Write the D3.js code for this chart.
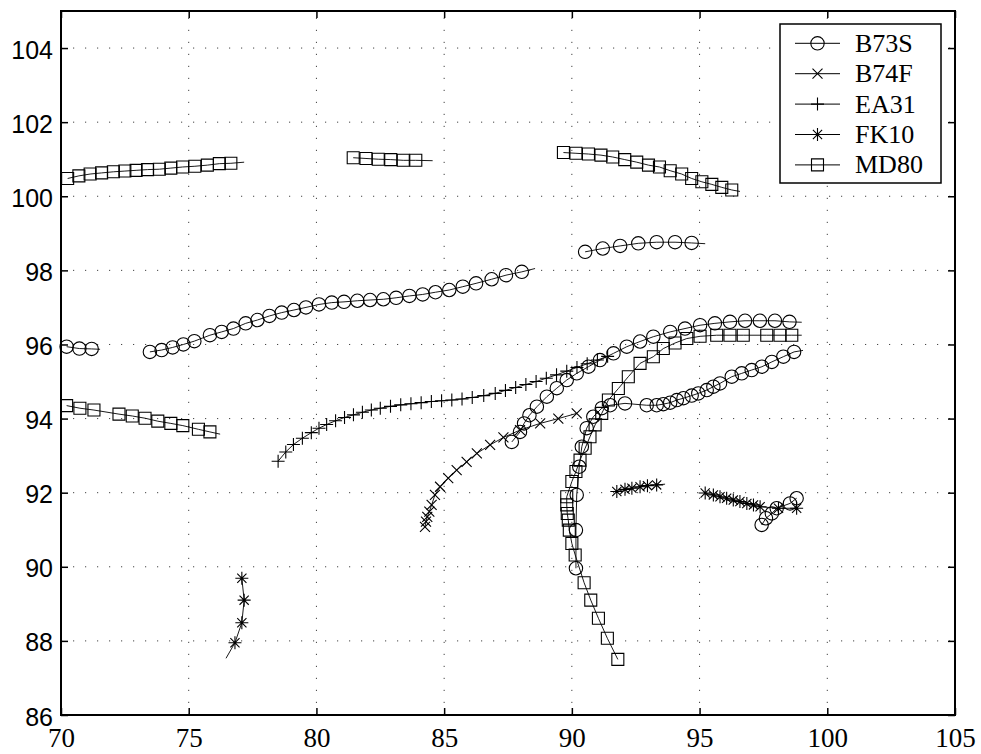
<!DOCTYPE html>
<html>
<head>
<meta charset="utf-8">
<script src="https://cdn.jsdelivr.net/npm/d3@7"></script>
<style>
  body { margin: 0; background: #fff; }
  svg { display: block; }
</style>
</head>
<body>
<svg id="chart"></svg>
<script>
const width = 981;
const height = 754;

const xTicks = [70, 75, 80, 85, 90, 95, 100, 105];
const yTicks = [86, 88, 90, 92, 94, 96, 98, 100, 102, 104];

const seriesNames = ["B73S", "B74F", "EA31", "FK10", "MD80"];

// tracks per aircraft type, [x, y] per marker; a third value 0 = line end only, no marker
const B73S = [
  [[70.22, 95.94], [70.72, 95.89], [71.2, 95.88], [71.53, 95.87, 0]],
  [[73.48, 95.80], [73.94, 95.85], [74.37, 95.92], [74.79, 96.00], [75.22, 96.09], [75.83, 96.25],
   [76.29, 96.34], [76.75, 96.43], [77.23, 96.57], [77.69, 96.66], [78.16, 96.77], [78.64, 96.86],
   [79.12, 96.93], [79.59, 97.00], [80.10, 97.08], [80.60, 97.13], [81.08, 97.15], [81.60, 97.18],
   [82.10, 97.20], [82.62, 97.22], [83.12, 97.26], [83.64, 97.31], [84.16, 97.35], [84.66, 97.41],
   [85.20, 97.47], [85.73, 97.56], [86.25, 97.65], [86.86, 97.76], [87.42, 97.87], [88.04, 97.96],
   [88.56, 98.05, 0]],
  [[90.52, 98.50], [91.21, 98.59], [91.89, 98.66], [92.60, 98.73], [93.32, 98.76], [94.04, 98.76],
   [94.69, 98.74], [95.22, 98.72, 0]],
  [[87.65, 93.37], [87.97, 93.64], [88.13, 93.87], [88.34, 94.09], [88.63, 94.32], [89.02, 94.59],
   [89.41, 94.82], [89.80, 95.04], [90.19, 95.22], [90.65, 95.40], [91.10, 95.58], [91.63, 95.76],
   [92.15, 95.94], [92.67, 96.08], [93.19, 96.21], [93.85, 96.34], [94.43, 96.43], [95.02, 96.52],
   [95.60, 96.57], [96.19, 96.61], [96.78, 96.64], [97.36, 96.64], [97.95, 96.64], [98.52, 96.61],
   [99.00, 96.60, 0]],
  [[90.16, 89.96], [90.16, 90.99], [90.19, 91.94], [90.29, 92.70], [90.39, 93.24], [90.58, 93.74],
   [90.84, 94.05], [91.17, 94.28], [91.50, 94.36], [92.08, 94.41], [92.93, 94.36], [93.32, 94.36],
   [93.58, 94.39], [93.85, 94.43], [94.11, 94.50], [94.37, 94.55], [94.69, 94.62], [94.95, 94.68],
   [95.28, 94.77], [95.54, 94.86], [95.80, 94.95], [96.26, 95.13], [96.65, 95.22], [97.04, 95.31],
   [97.44, 95.40], [97.83, 95.53], [98.28, 95.67], [98.70, 95.80], [99.05, 95.84, 0]],
  [[97.43, 91.13], [97.60, 91.31], [97.83, 91.44], [98.02, 91.58], [98.54, 91.71], [98.80, 91.85]]
];

const B74F = [
  [[84.25, 91.08], [84.29, 91.22], [84.34, 91.35], [84.42, 91.49], [84.51, 91.67], [84.64, 91.94],
   [84.84, 92.16], [85.16, 92.39], [85.49, 92.61], [85.88, 92.83], [86.28, 93.06], [86.80, 93.29],
   [87.32, 93.49], [87.97, 93.69], [88.76, 93.87], [89.47, 94.00], [90.19, 94.14]]
];

const EA31 = [
  [[78.50, 92.85], [78.80, 93.10], [79.10, 93.30], [79.45, 93.47], [79.80, 93.62], [80.10, 93.74],
   [80.40, 93.84], [80.75, 93.94], [81.10, 94.03], [81.45, 94.10], [81.80, 94.17], [82.15, 94.23],
   [82.50, 94.28], [82.90, 94.33], [83.30, 94.37], [83.70, 94.40], [84.10, 94.43], [84.50, 94.46],
   [84.90, 94.48], [85.30, 94.50], [85.70, 94.53], [86.10, 94.57], [86.55, 94.62], [87.00, 94.68],
   [87.40, 94.76], [87.80, 94.84], [88.20, 94.92], [88.60, 95.00], [89.00, 95.09], [89.40, 95.18],
   [89.80, 95.28], [90.20, 95.38], [90.60, 95.48], [91.00, 95.58], [91.40, 95.68]]
];

const FK10 = [
  [[76.46, 87.53, 0], [76.81, 87.95], [77.08, 88.49], [77.17, 89.10], [77.08, 89.69]],
  [[91.76, 92.03], [92.08, 92.09], [92.35, 92.12], [92.67, 92.16], [92.96, 92.19], [93.32, 92.21],
   [93.65, 92.23, 0]],
  [[95.22, 91.99], [95.54, 91.94], [95.80, 91.89], [96.06, 91.85], [96.32, 91.80], [96.58, 91.76],
   [96.85, 91.71], [97.11, 91.67], [97.37, 91.62], [98.09, 91.58], [98.80, 91.58]]
];

const MD80 = [
  [[70.26, 100.48], [70.70, 100.55], [71.14, 100.60], [71.59, 100.63], [72.05, 100.66], [72.50, 100.68],
   [72.94, 100.70], [73.39, 100.72], [73.85, 100.73], [74.30, 100.76], [74.76, 100.79], [75.24, 100.81],
   [75.73, 100.84], [76.20, 100.88], [76.65, 100.89], [77.17, 100.92, 0]],
  [[81.44, 101.04], [81.94, 101.02], [82.42, 101.00], [82.91, 100.99], [83.40, 100.97], [83.89, 100.97],
   [84.55, 100.96, 0]],
  [[89.67, 101.18], [90.16, 101.16], [90.65, 101.14], [91.14, 101.11], [91.60, 101.06], [92.07, 100.99],
   [92.54, 100.92], [93.00, 100.84], [93.43, 100.79], [93.85, 100.69], [94.30, 100.60], [94.69, 100.48],
   [95.09, 100.39], [95.48, 100.32], [95.87, 100.24], [96.26, 100.17], [96.58, 100.13, 0]],
  [[70.22, 94.35], [70.74, 94.28], [71.29, 94.23], [72.27, 94.12], [72.79, 94.07], [73.29, 94.01],
   [73.79, 93.93], [74.30, 93.87], [74.77, 93.81], [75.38, 93.71], [75.83, 93.64], [76.23, 93.58, 0]],
  [[91.80, 87.50], [91.39, 88.07], [91.04, 88.61], [90.74, 89.10], [90.48, 89.57], [90.13, 90.32],
   [90.00, 90.63], [89.90, 90.99], [89.86, 91.26], [89.82, 91.44], [89.80, 91.67], [89.80, 91.89],
   [90.00, 92.30], [90.16, 92.57], [90.32, 92.88], [90.52, 93.20], [90.71, 93.51], [90.91, 93.83],
   [91.17, 94.14], [91.43, 94.50], [91.82, 94.81], [92.21, 95.13], [92.67, 95.49], [93.19, 95.67],
   [93.58, 95.89], [94.04, 96.04], [94.50, 96.16], [95.02, 96.22], [95.67, 96.25], [96.19, 96.25],
   [96.71, 96.25], [97.63, 96.25], [98.15, 96.25], [98.61, 96.25], [99.00, 96.25, 0]]
];

const seriesTracks = { B73S, B74F, EA31, FK10, MD80 };
const seriesMarker = { B73S: "circle", B74F: "times", EA31: "plus", FK10: "star", MD80: "square" };

const margin = { left: 61, right: 26, top: 11, bottom: 39 };
const x = d3.scaleLinear().domain([70, 105]).range([margin.left, width - margin.right]);
const y = d3.scaleLinear().domain([86, 105]).range([height - margin.bottom, margin.top]);

const svg = d3.select("#chart").attr("width", width).attr("height", height);

// marker path, centred on 0,0
function markerPath(type) {
  const p = d3.path();
  if (type === "circle") {
    p.moveTo(6.7, 0); p.arc(0, 0, 6.7, 0, 2 * Math.PI);
  } else if (type === "square") {
    p.rect(-6, -6, 12, 12);
  } else if (type === "plus") {
    p.moveTo(-6.5, 0); p.lineTo(6.5, 0); p.moveTo(0, -6.5); p.lineTo(0, 6.5);
  } else if (type === "times") {
    p.moveTo(-5, -5); p.lineTo(5, 5); p.moveTo(-5, 5); p.lineTo(5, -5);
  } else if (type === "star") {
    p.moveTo(-6.5, 0); p.lineTo(6.5, 0); p.moveTo(0, -6.5); p.lineTo(0, 6.5);
    p.moveTo(-4.6, -4.6); p.lineTo(4.6, 4.6); p.moveTo(-4.6, 4.6); p.lineTo(4.6, -4.6);
  }
  return p.toString();
}

// grid
const grid = svg.append("g");
grid.selectAll(".gx").data(xTicks.slice(1, -1)).join("line")
  .attr("x1", d => x(d)).attr("x2", d => x(d))
  .attr("y1", y(86)).attr("y2", y(105))
  .attr("stroke", "#444").attr("stroke-width", 1).attr("stroke-dasharray", "1.2,10.8");
grid.selectAll(".gy").data(yTicks.slice(1)).join("line")
  .attr("x1", x(70)).attr("x2", x(105))
  .attr("y1", d => y(d)).attr("y2", d => y(d))
  .attr("stroke", "#444").attr("stroke-width", 1).attr("stroke-dasharray", "1.2,10.8");

// axes, ticks pointing inward on all four sides
const axBottom = svg.append("g").attr("transform", `translate(0,${y(86)})`)
  .call(d3.axisBottom(x).tickValues(xTicks).tickSize(-7).tickPadding(13));
const axLeft = svg.append("g").attr("transform", `translate(${x(70)},0)`)
  .call(d3.axisLeft(y).tickValues(yTicks).tickSize(-7).tickPadding(8));
const axTop = svg.append("g").attr("transform", `translate(0,${y(105)})`)
  .call(d3.axisTop(x).tickValues(xTicks).tickSize(-7).tickFormat(""));
const axRight = svg.append("g").attr("transform", `translate(${x(105)},0)`)
  .call(d3.axisRight(y).tickValues(yTicks).tickSize(-7).tickFormat(""));

[axBottom, axLeft, axTop, axRight].forEach(g => {
  g.select(".domain").remove();
  g.selectAll(".tick line").attr("stroke", "#000").attr("stroke-width", 1.5);
});
axBottom.selectAll("text")
  .attr("font-family", "'Liberation Serif', 'Times New Roman', serif")
  .attr("font-size", 27).attr("fill", "#000");
axLeft.selectAll("text")
  .attr("font-family", "'Liberation Sans', Arial, sans-serif")
  .attr("font-size", 25).attr("fill", "#000").attr("dy", "0.4em");

// tracks
const line = d3.line().x(d => x(d[0])).y(d => y(d[1]));
const plot = svg.append("g");
seriesNames.forEach(name => {
  const mk = markerPath(seriesMarker[name]);
  seriesTracks[name].forEach(track => {
    plot.append("path")
      .attr("d", line(track))
      .attr("fill", "none").attr("stroke", "#000").attr("stroke-width", 0.9);
    plot.append("g").selectAll("path").data(track.filter(d => d[2] !== 0)).join("path")
      .attr("transform", d => `translate(${x(d[0])},${y(d[1])})`)
      .attr("d", mk)
      .attr("fill", "none").attr("stroke", "#000").attr("stroke-width", 1.1);
  });
});

// frame
svg.append("rect")
  .attr("x", x(70)).attr("y", y(105))
  .attr("width", x(105) - x(70)).attr("height", y(86) - y(105))
  .attr("fill", "none").attr("stroke", "#000").attr("stroke-width", 2);

// legend
const legend = svg.append("g");
legend.append("rect")
  .attr("x", 780).attr("y", 24).attr("width", 161).attr("height", 159)
  .attr("fill", "#fff").attr("stroke", "#000").attr("stroke-width", 1.5);
seriesNames.forEach((name, i) => {
  const cy = 43.3 + i * 30.4;
  const row = legend.append("g");
  row.append("line").attr("x1", 795).attr("x2", 840).attr("y1", cy).attr("y2", cy)
    .attr("stroke", "#000").attr("stroke-width", 1);
  row.append("path").attr("transform", `translate(817.5,${cy})`)
    .attr("d", markerPath(seriesMarker[name]))
    .attr("fill", "none").attr("stroke", "#000").attr("stroke-width", 1.1);
  row.append("text").attr("x", 855).attr("y", cy + 8.5)
    .attr("font-family", "'Liberation Serif', 'Times New Roman', serif")
    .attr("font-size", 26).attr("fill", "#000")
    .text(name);
});
</script>
</body>
</html>
